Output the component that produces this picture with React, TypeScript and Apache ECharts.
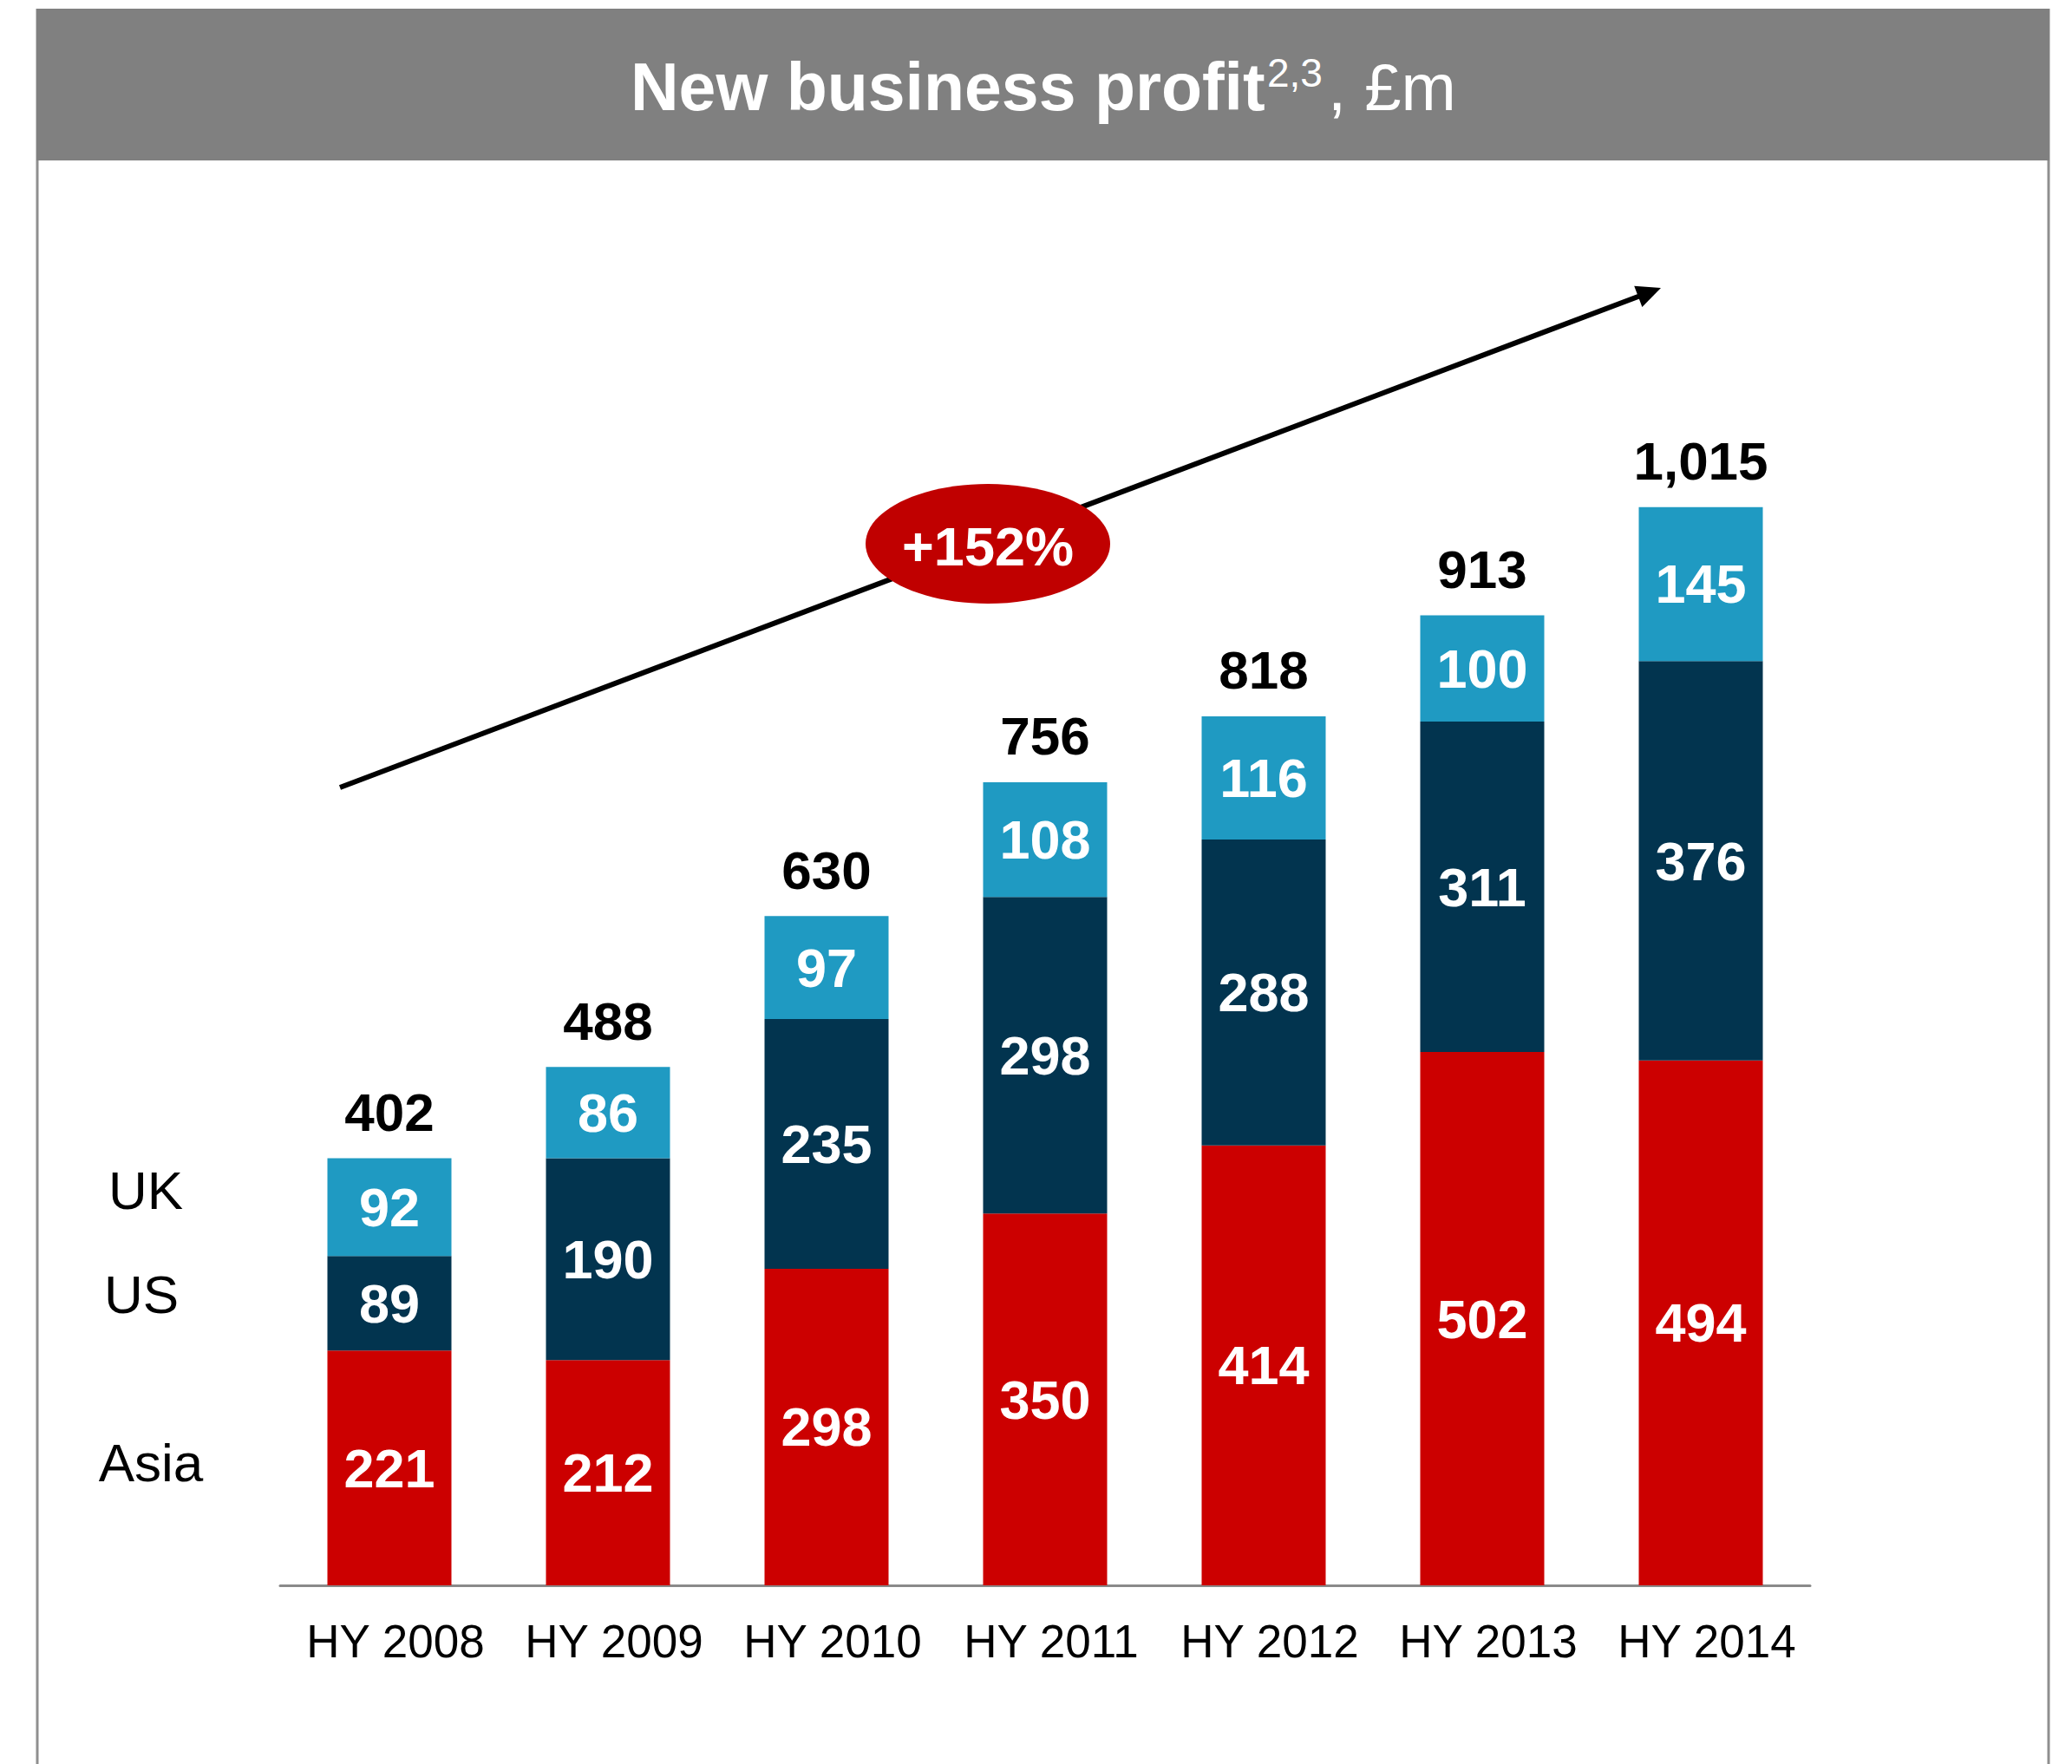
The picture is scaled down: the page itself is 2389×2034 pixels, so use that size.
import React, { useEffect, useRef } from 'react';
import * as echarts from 'echarts';

const categories = ['HY 2008', 'HY 2009', 'HY 2010', 'HY 2011', 'HY 2012', 'HY 2013', 'HY 2014'];
const asia = [221, 212, 298, 350, 414, 502, 494];
const us = [89, 190, 235, 298, 288, 311, 376];
const uk = [92, 86, 97, 108, 116, 100, 145];
const totals = [402, 488, 630, 756, 818, 913, 1015];
const totalLabels = ['402', '488', '630', '756', '818', '913', '1,015'];
const zeros = [0, 0, 0, 0, 0, 0, 0];
const growthLabel = '+152%';

const FONT = '"Liberation Sans", Arial, Helvetica, sans-serif';
const RED = '#CC0000';
const NAVY = '#02344F';
const BLUE = '#1F9AC2';

export default function App() {
  const ref = useRef<HTMLDivElement>(null);
  useEffect(() => {
    document.body.style.margin = '0';
    const chart = echarts.init(ref.current!, null, { renderer: 'svg' });

    // arrow geometry
    const x1 = 392, y1 = 908, tx = 1915, ty = 332;
    const dx = tx - x1, dy = ty - y1;
    const len = Math.sqrt(dx * dx + dy * dy);
    const ux = dx / len, uy = dy / len;
    const nx = -uy, ny = ux;
    const hl = 28, hw = 13;
    const bx = tx - hl * ux, by = ty - hl * uy;

    const innerLabel = {
      show: true,
      position: 'inside',
      color: '#ffffff',
      fontSize: 63,
      fontWeight: 'bold',
      fontFamily: FONT,
    };

    chart.setOption({
      animation: false,
      backgroundColor: '#ffffff',
      grid: { left: 323, width: 1764, top: 358, bottom: 206, containLabel: false },
      xAxis: {
        type: 'category',
        data: categories,
        axisLine: { show: true, lineStyle: { color: '#8a8a8a', width: 3 } },
        axisTick: { show: false },
        axisLabel: { interval: 0, color: '#000000', fontSize: 53, fontFamily: FONT, margin: 38, padding: [0, 0, 0, 14] },
        splitLine: { show: false },
      },
      yAxis: {
        type: 'value',
        min: 0,
        max: 1200,
        show: false,
        splitLine: { show: false },
      },
      series: [
        {
          name: 'Asia', type: 'bar', stack: 'total', data: asia, barWidth: 143,
          itemStyle: { color: RED }, label: innerLabel,
        },
        {
          name: 'US', type: 'bar', stack: 'total', data: us, barWidth: 143,
          itemStyle: { color: NAVY }, label: innerLabel,
        },
        {
          name: 'UK', type: 'bar', stack: 'total', data: uk, barWidth: 143,
          itemStyle: { color: BLUE }, label: innerLabel,
        },
        {
          name: 'Total', type: 'bar', stack: 'total', data: zeros, barWidth: 143,
          itemStyle: { color: 'transparent' },
          label: {
            show: true,
            position: 'top',
            distance: 22,
            color: '#000000',
            fontSize: 62,
            fontWeight: 'bold',
            fontFamily: FONT,
            formatter: (p: any) => totalLabels[p.dataIndex],
          },
        },
      ],
      graphic: [
        // frame
        { type: 'line', shape: { x1: 43, y1: 10, x2: 43, y2: 2034 }, style: { stroke: '#8f8f8f', lineWidth: 3 } },
        { type: 'line', shape: { x1: 2362, y1: 10, x2: 2362, y2: 2034 }, style: { stroke: '#8f8f8f', lineWidth: 3 } },
        // title bar
        { type: 'rect', shape: { x: 42, y: 10, width: 2321, height: 175 }, style: { fill: '#808080' } },
        {
          type: 'text', x: 727, y: 100,
          style: { text: 'New business profit', fill: '#ffffff', font: `bold 77px ${FONT}`, textAlign: 'left', textVerticalAlign: 'middle' },
        },
        {
          type: 'text', x: 1461, y: 84,
          style: { text: '2,3', fill: '#ffffff', font: `46px ${FONT}`, textAlign: 'left', textVerticalAlign: 'middle' },
        },
        {
          type: 'text', x: 1531, y: 100,
          style: { text: ', £m', fill: '#ffffff', font: `76px ${FONT}`, textAlign: 'left', textVerticalAlign: 'middle' },
        },
        // series labels on the left
        { type: 'text', x: 168, y: 1372, style: { text: 'UK', fill: '#000000', font: `62px ${FONT}`, textAlign: 'center', textVerticalAlign: 'middle' } },
        { type: 'text', x: 163, y: 1492, style: { text: 'US', fill: '#000000', font: `62px ${FONT}`, textAlign: 'center', textVerticalAlign: 'middle' } },
        { type: 'text', x: 174, y: 1686, style: { text: 'Asia', fill: '#000000', font: `62px ${FONT}`, textAlign: 'center', textVerticalAlign: 'middle' } },
        // growth arrow
        { type: 'line', shape: { x1, y1, x2: bx + 2 * ux, y2: by + 2 * uy }, style: { stroke: '#000000', lineWidth: 6 } },
        {
          type: 'polygon',
          shape: { points: [[tx, ty], [bx + hw * nx, by + hw * ny], [bx - hw * nx, by - hw * ny]] },
          style: { fill: '#000000' },
        },
        { type: 'ellipse', shape: { cx: 1139, cy: 627, rx: 141, ry: 69 }, style: { fill: '#C00000' } },
        {
          type: 'text', x: 1139, y: 630,
          style: { text: growthLabel, fill: '#ffffff', font: `bold 63px ${FONT}`, textAlign: 'center', textVerticalAlign: 'middle' },
        },
      ],
    });
    return () => chart.dispose();
  }, []);
  return <div ref={ref} style={{ position: 'absolute', left: 0, top: 0, width: 2389, height: 2034 }} />;
}
